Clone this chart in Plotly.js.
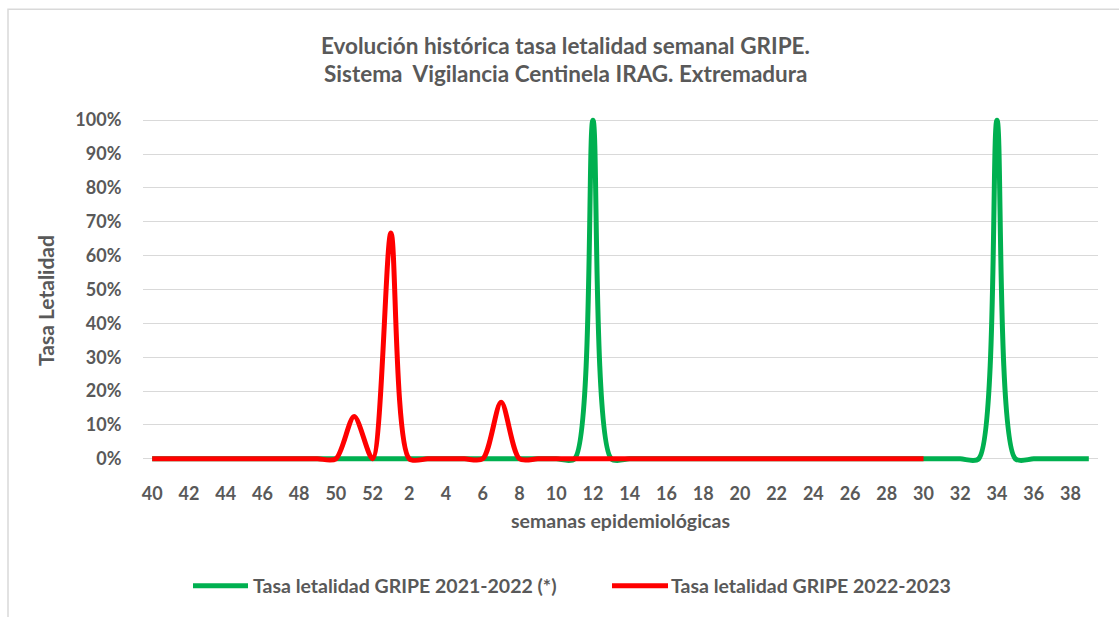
<!DOCTYPE html>
<html>
<head>
<meta charset="utf-8">
<script src="https://cdn.plot.ly/plotly-3.0.1.min.js"></script>
<style>html,body{margin:0;padding:0;background:#fff;}#chart{width:1119px;height:617px;}</style>
</head>
<body>
<div id="chart"></div>
<script>
// Data
const weeks = ['40','41','42','43','44','45','46','47','48','49','50','51','52',
  '1','2','3','4','5','6','7','8','9','10','11','12','13','14','15','16','17','18','19','20',
  '21','22','23','24','25','26','27','28','29','30','31','32','33','34','35','36','37','38','39'];
const tickWeeks = ['40','42','44','46','48','50','52','2','4','6','8','10','12','14','16','18','20',
  '22','24','26','28','30','32','34','36','38'];
const serie2122 = [0,0,0,0,0,0,0,0,0,0,0,0,0,
  0,0,0,0,0,0,0,0,0,0,0,1,0,0,0,0,0,0,0,0,
  0,0,0,0,0,0,0,0,0,0,0,0,0,1,0,0,0,0,0];
const serie2223 = [0,0,0,0,0,0,0,0,0,0,0,0.125,0,
  0.667,0,0,0,0,0,0.167,0,0,0,0,0,0,0,0,0,0,0,0,0,
  0,0,0,0,0,0,0,0,0,0,null,null,null,null,null,null,null,null,null];
const yTicks = [0,0.1,0.2,0.3,0.4,0.5,0.6,0.7,0.8,0.9,1.0];
const names = ['Tasa letalidad GRIPE 2021-2022 (*)','Tasa letalidad GRIPE 2022-2023'];
const colors = ['#00B050','#FF0000'];

const W = 1119, H = 617;
const L = 143, R = 1098, T = 109.8, B = 469.2;
const px = x => (x - L) / (R - L);
const py = y => (B - y) / (B - T);
const FONT = 'Lato, "Open Sans", sans-serif';
const TXT = '#595959';

const traces = [
  {x: weeks, y: serie2122, name: names[0], type: 'scatter', mode: 'lines',
   line: {color: colors[0], width: 5, shape: 'spline', smoothing: 0.8}, connectgaps: false},
  {x: weeks, y: serie2223, name: names[1], type: 'scatter', mode: 'lines',
   line: {color: colors[1], width: 5, shape: 'spline', smoothing: 0.8}, connectgaps: false}
];

const layout = {
  width: W, height: H,
  margin: {l: L, r: W - R, t: T, b: H - B, pad: 0},
  paper_bgcolor: '#fff', plot_bgcolor: '#fff',
  showlegend: false,
  font: {family: FONT, color: TXT},
  xaxis: {
    type: 'category', categoryorder: 'array', categoryarray: weeks,
    range: [-0.5, weeks.length - 0.5],
    tickmode: 'array', tickvals: tickWeeks, ticktext: tickWeeks,
    showgrid: false, zeroline: false, showline: false,
    ticks: 'outside', ticklen: 8, tickcolor: 'rgba(0,0,0,0)',
    tickfont: {family: FONT, size: 18, color: TXT, weight: 'bold'},
    title: {text: 'semanas epidemiológicas', standoff: 11,
      font: {family: FONT, size: 19.5, color: TXT, weight: 'bold'}}
  },
  yaxis: {
    range: [-0.03, 1.03],
    tickmode: 'array', tickvals: yTicks, tickformat: '.0%',
    showgrid: true, gridcolor: '#D9D9D9', gridwidth: 1,
    zeroline: false, showline: false,
    ticks: 'outside', ticklen: 17, tickcolor: 'rgba(0,0,0,0)',
    tickfont: {family: FONT, size: 18, color: TXT, weight: 'bold'}
  },
  shapes: [
    {type: 'rect', xref: 'paper', yref: 'paper', x0: px(8), x1: px(1130), y0: py(630), y1: py(9),
     line: {color: '#D9D9D9', width: 1.5}, fillcolor: 'rgba(0,0,0,0)', layer: 'below'},
    {type: 'line', xref: 'paper', yref: 'paper', x0: px(193), x1: px(248), y0: py(586), y1: py(586),
     line: {color: colors[0], width: 5}},
    {type: 'line', xref: 'paper', yref: 'paper', x0: px(612), x1: px(668), y0: py(586), y1: py(586),
     line: {color: colors[1], width: 5}}
  ],
  annotations: [
    {xref: 'paper', yref: 'paper', x: px(565), y: py(45), xanchor: 'center', yanchor: 'middle',
     showarrow: false, text: 'Evolución histórica tasa letalidad semanal GRIPE.',
     font: {family: FONT, size: 22.5, color: TXT, weight: 'bold'}},
    {xref: 'paper', yref: 'paper', x: px(565), y: py(73), xanchor: 'center', yanchor: 'middle',
     showarrow: false, text: 'Sistema  Vigilancia Centinela IRAG. Extremadura',
     font: {family: FONT, size: 22.5, color: TXT, weight: 'bold'}},
    {xref: 'paper', yref: 'paper', x: px(46), y: py(301), xanchor: 'center', yanchor: 'middle',
     showarrow: false, textangle: -90, text: 'Tasa Letalidad',
     font: {family: FONT, size: 21, color: TXT, weight: 'bold'}},
    {xref: 'paper', yref: 'paper', x: px(251), y: py(586), xanchor: 'left', yanchor: 'middle',
     showarrow: false, text: names[0],
     font: {family: FONT, size: 19.5, color: TXT, weight: 'bold'}},
    {xref: 'paper', yref: 'paper', x: px(669), y: py(586), xanchor: 'left', yanchor: 'middle',
     showarrow: false, text: names[1],
     font: {family: FONT, size: 19.5, color: TXT, weight: 'bold'}}
  ]
};

Plotly.newPlot('chart', traces, layout, {displayModeBar: false, staticPlot: true});
</script>
</body>
</html>
